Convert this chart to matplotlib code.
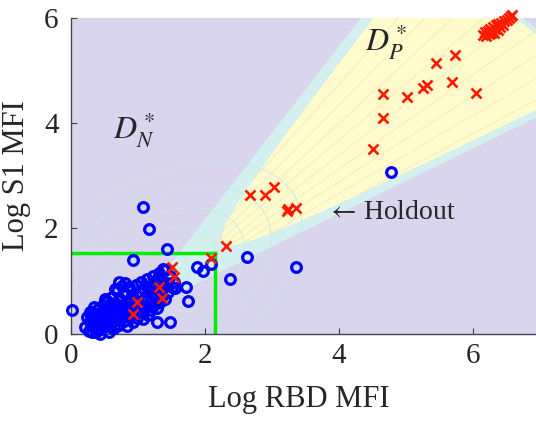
import numpy as np
import matplotlib.pyplot as plt
from matplotlib.colors import ListedColormap

plt.rcParams['font.family'] = ['Liberation Serif', 'DejaVu Serif']
plt.rcParams['mathtext.fontset'] = 'stix'

# ---- data (log MFI units) ----
# negative samples (blue circles): dense blob, then the scattered ones
neg_x = [0.21, 0.24, 0.27, 0.29, 0.32, 0.34, 0.36, 0.38, 0.40, 0.41, 0.43, 0.45, 0.47, 0.48, 0.50,
         0.52, 0.53, 0.55, 0.56, 0.58, 0.60, 0.61, 0.63, 0.64, 0.66, 0.67, 0.69, 0.70, 0.72, 0.73,
         0.75, 0.76, 0.78, 0.79, 0.81, 0.82, 0.84, 0.85, 0.87, 0.88, 0.90, 0.91, 0.93, 0.94, 0.96,
         0.97, 0.99, 1.00, 1.02, 1.03, 1.05, 1.06, 1.08, 1.09, 1.11, 1.12, 1.14, 1.15, 1.17, 1.18,
         1.20, 1.21, 1.23, 1.24, 1.26, 1.27, 1.29, 1.30, 1.32, 1.33, 1.35, 1.36, 1.38, 1.40, 1.41,
         1.43, 1.45, 1.47, 1.50, 1.53, 1.55,
         0.30, 0.46, 0.62, 0.74, 0.86, 0.98, 1.10, 1.22, 1.34, 0.58, 0.70, 0.92, 1.04, 1.16, 1.28,
         0.35, 0.50, 0.66, 0.80,
         1.08, 1.16, 1.43, 0.92, 1.38, 1.88, 1.97, 2.09, 2.38, 2.62, 3.36, 1.71, 1.75,
         1.28, 1.48, 0.72, 0.01, 0.33, 0.31, 0.43, 0.28, 4.78]
neg_y = [0.12, 0.31, 0.05, 0.22, 0.40, 0.13, 0.28, 0.02, 0.47, 0.19, 0.35, 0.08, 0.55, 0.26, 0.42,
         0.15, 0.61, 0.33, 0.03, 0.50, 0.22, 0.70, 0.39, 0.10, 0.58, 0.29, 0.80, 0.46, 0.16, 0.66,
         0.36, 0.90, 0.54, 0.24, 0.75, 0.44, 0.14, 0.62, 0.88, 0.33, 0.52, 0.73, 0.21, 0.43, 0.64,
         0.92, 0.30, 0.53, 0.78, 0.40, 0.98, 0.62, 0.28, 0.85, 0.48, 0.70, 1.04, 0.36, 0.58, 0.90,
         0.45, 0.75, 1.10, 0.55, 0.95, 0.66, 0.48, 0.82, 1.15, 0.60, 1.00, 0.72, 0.88, 1.20, 0.66,
         0.95, 0.78, 1.10, 0.88, 0.98, 0.86,
         0.33, 0.40, 0.52, 0.50, 0.50, 0.72, 0.62, 0.88, 0.85, 0.12, 0.25, 0.38, 0.50, 0.80, 1.02,
         0.50, 0.66, 0.84, 0.96,
         2.41, 1.98, 1.61, 1.40, 1.22, 1.26, 1.19, 1.32, 1.03, 1.46, 1.27, 0.88, 0.62,
         0.21, 0.21, 0.98, 0.45, 0.26, 0.03, 0.00, 0.41, 3.06]

# positive samples (red crosses)
pos_x = [0.93, 0.99, 1.31, 1.36, 1.50, 1.54, 2.09, 2.31, 2.67, 2.89, 3.03, 3.22, 3.24, 3.36,
         4.50, 4.66, 4.65, 5.01, 5.26, 5.32, 5.45, 5.73, 5.69, 6.04,
         6.15, 6.18, 6.20, 6.22, 6.24, 6.26, 6.27, 6.29, 6.30, 6.32, 6.33, 6.35, 6.37,
         6.38, 6.40, 6.42, 6.44, 6.46, 6.50, 6.53, 6.56, 6.58]
pos_y = [0.37, 0.60, 0.89, 0.68, 1.26, 1.08, 1.43, 1.66, 2.63, 2.63, 2.79, 2.33, 2.36, 2.38,
         3.50, 4.09, 4.55, 4.50, 4.66, 4.72, 5.14, 5.29, 4.77, 4.57,
         5.66, 5.72, 5.64, 5.75, 5.68, 5.79, 5.70, 5.74, 5.82, 5.70, 5.78, 5.85, 5.76,
         5.88, 5.82, 5.90, 5.86, 5.93, 5.96, 6.00, 6.02, 6.05]

# gate drawn in green
gate_x = 2.15
gate_y = 1.52

fig = plt.figure(figsize=(5.36, 4.24), dpi=100)
ax = fig.add_axes([0.1325, 0.2134, 0.8675, 0.7453])

# ---- decision regions ----
gx, gy = np.meshgrid(np.linspace(0, 7.0, 600), np.linspace(0, 6.1, 520))
apex = (0.92, 0.37)
a_up = np.radians(58.7)
a_lo = np.radians(31.9)
dx = gx - apex[0]
dy = gy - apex[1]
s = dx * np.sin(a_up) - dy * np.cos(a_up)      # distance from upper edge (inside > 0)
t = -dx * np.sin(a_lo) + dy * np.cos(a_lo)     # distance from lower edge (inside > 0)
inside = (s > 0) & (t > 0)
prod = np.where((s > 0.12) & (t > 0.08), (s - 0.12) * (t - 0.08), 0.0)
corner = gx + gy

region = np.zeros_like(gx)
region[inside] = 1
region[(prod > 0.12) & (corner < 12.6)] = 2
region[corner > 12.72] = 0
ax.contourf(gx, gy, region, levels=[-0.5, 0.5, 1.5, 2.5],
            cmap=ListedColormap(['#d9d5ec', '#d3f0ee', '#fffbcd']), zorder=0)

# faint fan of level lines inside the positive region
theta = np.degrees(np.arctan2(dy, dx))
theta_in = np.where(prod > 0.1, theta, np.nan)
ax.contour(gx, gy, theta_in, levels=np.arange(34.0, 58.0, 2.6),
           colors='#f2ebb6', linewidths=0.6, zorder=1)

# faint density contours of the negative cloud
u = ((gx - 1.0) + (gy - 0.8)) / np.sqrt(2)
v = (-(gx - 1.0) + (gy - 0.8)) / np.sqrt(2)
dens = np.exp(-0.5 * ((u / 1.4) ** 2 + (v / 0.8) ** 2))
ax.contour(gx, gy, dens, levels=[0.1, 0.22, 0.38, 0.58, 0.8],
           colors='#c4e9ea', linewidths=0.6, zorder=1)

# ---- gate ----
ax.plot([0, gate_x], [gate_y, gate_y], color='#00ee00', lw=2.5, zorder=2)
ax.plot([gate_x, gate_x], [0, gate_y], color='#00ee00', lw=2.5, zorder=2)

# ---- samples ----
ax.plot(neg_x, neg_y, 'o', ms=7, mfc='none', mec='#0000ff', mew=2.3, clip_on=False, zorder=3)
ax.plot(pos_x, pos_y, 'x', ms=6.5, color='#ff1a00', mew=1.9, clip_on=False, zorder=4)

# ---- annotations ----
ax.text(0.63, 3.87, r'$D_N^*$', fontsize=23, color='#262626', va='center', zorder=5)
ax.text(4.39, 5.54, r'$D_P^*$', fontsize=23, color='#262626', va='center', zorder=5)
ax.text(3.80, 2.29, r'$\leftarrow\,$Holdout', fontsize=20, color='#262626', va='center', zorder=5)

ax.set_xlim(0, 6.94)
ax.set_ylim(0, 6)
ax.set_xticks([0, 2, 4, 6])
ax.set_yticks([0, 2, 4, 6])
ax.tick_params(direction='in', length=4, labelsize=21, colors='#444444', labelcolor='#262626')
ax.tick_params(axis='x', pad=7)
ax.tick_params(axis='y', pad=9)
for side in ['top', 'right']:
    ax.spines[side].set_visible(False)
for side in ['left', 'bottom']:
    ax.spines[side].set_color('#444455')
    ax.spines[side].set_linewidth(1.0)

ax.set_xlabel('Log RBD MFI', fontsize=22, color='#262626')
ax.set_ylabel('Log S1 MFI', fontsize=22, color='#262626')
ax.xaxis.set_label_coords(0.49, -0.163)
ax.yaxis.set_label_coords(-0.085, 0.5)

fig.savefig('out.png', dpi=100)
